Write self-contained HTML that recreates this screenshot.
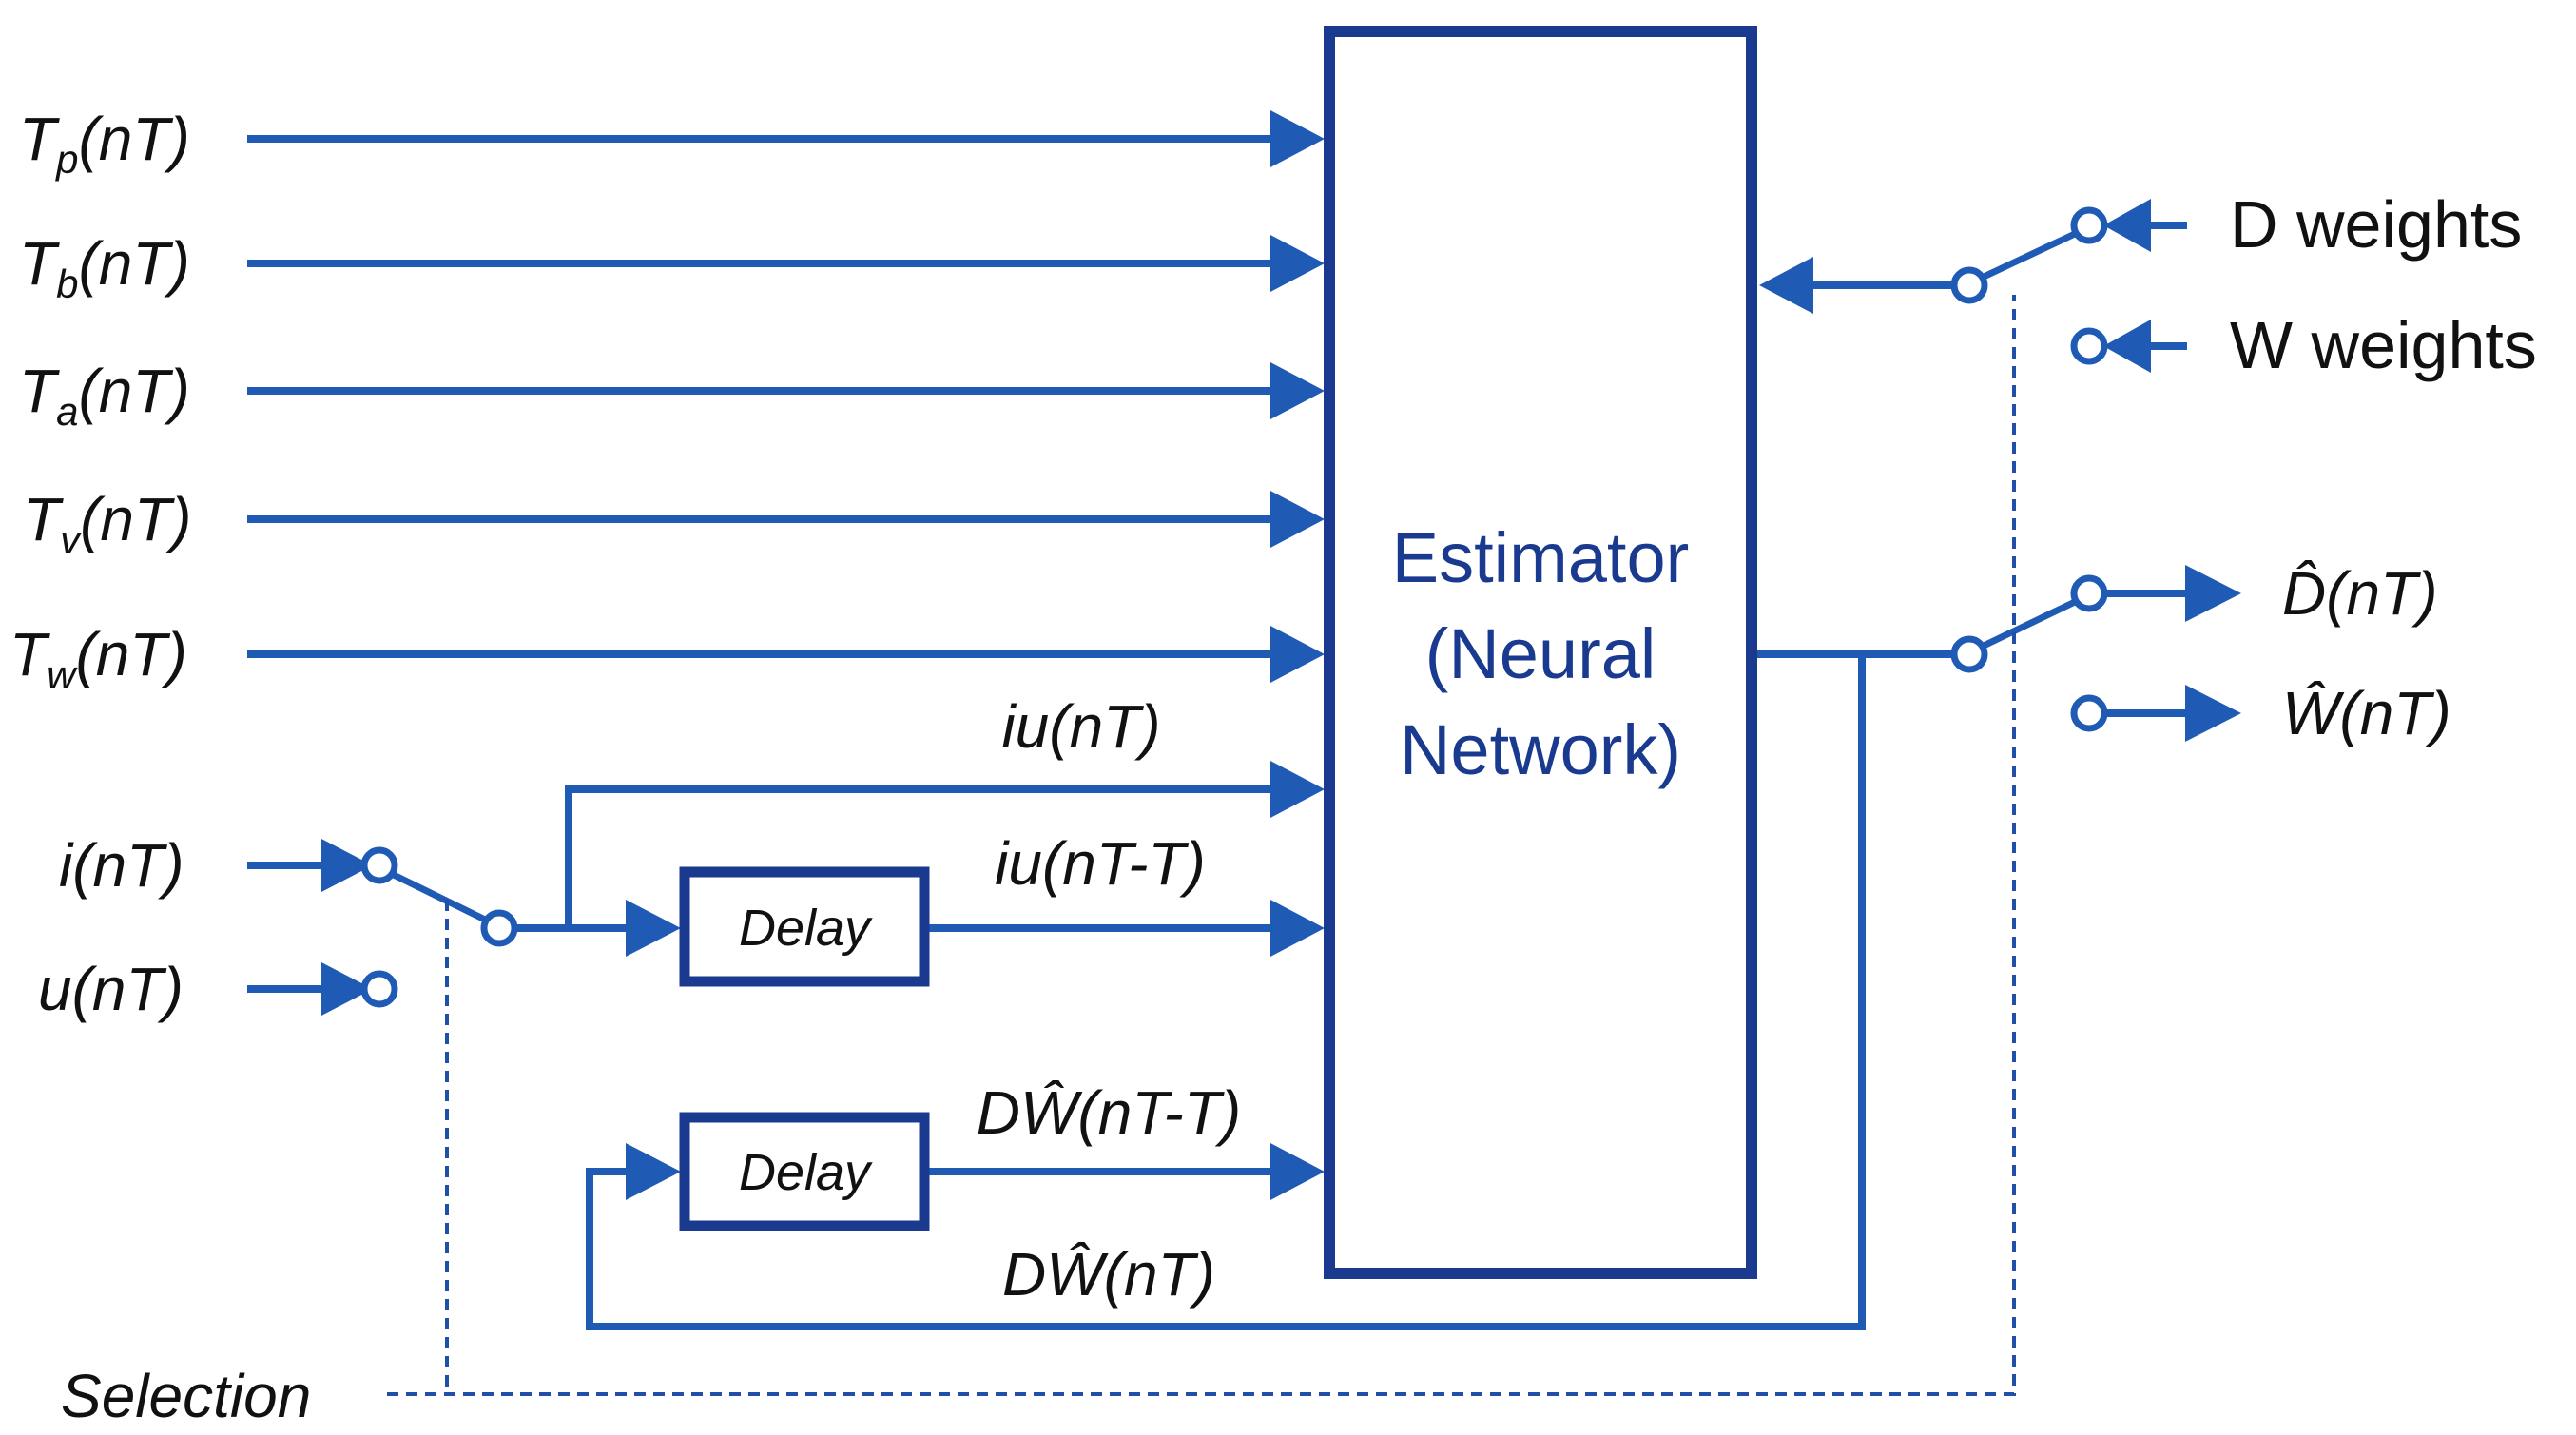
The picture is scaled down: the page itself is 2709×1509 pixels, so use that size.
<!DOCTYPE html>
<html><head><meta charset="utf-8"><style>
html,body{margin:0;padding:0;background:#fff;}
svg{display:block}
text{font-family:"Liberation Sans",sans-serif;}
.it{font-style:italic;fill:#111;font-size:64px;}
</style></head><body>
<svg width="2709" height="1509" viewBox="0 0 2709 1509" xmlns="http://www.w3.org/2000/svg">
<g stroke="#1f5bb5" stroke-width="8" fill="none">
<line x1="260" y1="146" x2="1340" y2="146"/>
<line x1="260" y1="277" x2="1340" y2="277"/>
<line x1="260" y1="411" x2="1340" y2="411"/>
<line x1="260" y1="546" x2="1340" y2="546"/>
<line x1="260" y1="688" x2="1340" y2="688"/>
<polyline points="598,976 598,830 1340,830"/>
<line x1="542" y1="976" x2="660" y2="976"/>
<line x1="976" y1="976" x2="1340" y2="976"/>
<line x1="976" y1="1232" x2="1340" y2="1232"/>
<polyline points="1846,688 2054,688"/>
<polyline points="1958,688 1958,1395 620,1395 620,1232 660,1232"/>
<line x1="260" y1="910" x2="340" y2="910"/>
<line x1="260" y1="1040" x2="340" y2="1040"/>
<line x1="2088" y1="300" x2="1905" y2="300"/>
<line x1="2300" y1="237" x2="2260" y2="237"/>
<line x1="2300" y1="364" x2="2260" y2="364"/>
<line x1="2214" y1="624" x2="2300" y2="624"/>
<line x1="2214" y1="750" x2="2300" y2="750"/>
</g>
<g fill="#1f5bb5">
<path d="M1336,116 L1393,146 L1336,176z"/>
<path d="M1336,247 L1393,277 L1336,307z"/>
<path d="M1336,381 L1393,411 L1336,441z"/>
<path d="M1336,516 L1393,546 L1336,576z"/>
<path d="M1336,658 L1393,688 L1336,718z"/>
<path d="M1336,800 L1393,830 L1336,860z"/>
<path d="M1336,946 L1393,976 L1336,1006z"/>
<path d="M1336,1202 L1393,1232 L1336,1262z"/>
<path d="M658,946 L716,976 L658,1006z"/>
<path d="M658,1202 L716,1232 L658,1262z"/>
<path d="M338,882 L392,910 L338,938z"/>
<path d="M338,1012 L392,1040 L338,1068z"/>
<path d="M1907,270 L1850,300 L1907,330z"/>
<path d="M2262,209 L2212,237 L2262,265z"/>
<path d="M2262,336 L2212,364 L2262,392z"/>
<path d="M2298,594 L2357,624 L2298,654z"/>
<path d="M2298,720 L2357,750 L2298,780z"/>
</g>
<g stroke="#1f5bb5" stroke-width="7" fill="#fff">
<line x1="414" y1="920" x2="512" y2="968"/>
<line x1="2084" y1="292" x2="2184" y2="245"/>
<line x1="2084" y1="680" x2="2184" y2="632"/>
<circle cx="399" cy="910" r="16"/>
<circle cx="399" cy="1040" r="16"/>
<circle cx="525" cy="976" r="16"/>
<circle cx="2071" cy="300" r="16"/>
<circle cx="2197" cy="237" r="16"/>
<circle cx="2197" cy="364" r="16"/>
<circle cx="2071" cy="688" r="16"/>
<circle cx="2197" cy="624" r="16"/>
<circle cx="2197" cy="750" r="16"/>
</g>
<g stroke="#1f4fa8" stroke-width="4" fill="none" stroke-dasharray="12,8">
<polyline points="407,1466 2118,1466 2118,310"/>
<line x1="470" y1="946" x2="470" y2="1466"/>
</g>
<rect x="1398" y="33" width="444" height="1306" fill="#fff" stroke="#1a3a8f" stroke-width="12"/>
<rect x="720" y="917" width="252" height="115" fill="#fff" stroke="#1a3a8f" stroke-width="11"/>
<rect x="720" y="1175" width="252" height="114" fill="#fff" stroke="#1a3a8f" stroke-width="11"/>
<g text-anchor="middle" fill="#1a3a8f" font-size="74">
<text x="1620" y="612">Estimator</text>
<text x="1620" y="713">(Neural</text>
<text x="1620" y="814">Network)</text>
</g>
<g class="it" text-anchor="middle" style="font-size:54px">
<text x="846" y="994">Delay</text>
<text x="846" y="1251">Delay</text>
</g>
<g class="it">
<text x="20" y="168">T<tspan font-size="42" dy="14">p</tspan><tspan dy="-14">(nT)</tspan></text>
<text x="20" y="299">T<tspan font-size="42" dy="14">b</tspan><tspan dy="-14">(nT)</tspan></text>
<text x="20" y="433">T<tspan font-size="42" dy="14">a</tspan><tspan dy="-14">(nT)</tspan></text>
<text x="24" y="568">T<tspan font-size="42" dy="14">v</tspan><tspan dy="-14">(nT)</tspan></text>
<text x="10" y="710">T<tspan font-size="42" dy="14">w</tspan><tspan dy="-14">(nT)</tspan></text>
<text x="62" y="932">i(nT)</text>
<text x="40" y="1062">u(nT)</text>
<text x="64" y="1490">Selection</text>
</g>
<g class="it" text-anchor="middle">
<text x="1137" y="786">iu(nT)</text>
<text x="1157" y="930">iu(nT-T)</text>
<text x="1166" y="1192">DŴ(nT-T)</text>
<text x="1166" y="1362">DŴ(nT)</text>
</g>
<g class="it">
<text x="2400" y="646">D̂(nT)</text>
<text x="2400" y="772">Ŵ(nT)</text>
</g>
<g font-size="70" fill="#111">
<text x="2345" y="260">D weights</text>
<text x="2345" y="387">W weights</text>
</g>
</svg>
</body></html>
